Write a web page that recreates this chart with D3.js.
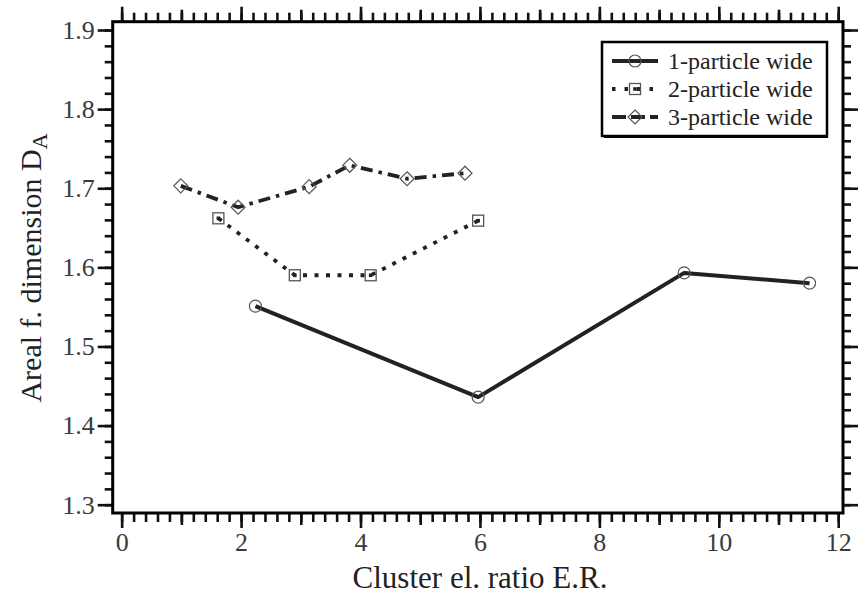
<!DOCTYPE html>
<html>
<head>
<meta charset="utf-8">
<script src="https://cdn.jsdelivr.net/npm/d3@7"></script>
<style>
  body { margin: 0; background: #fff; }
  text { font-family: "Liberation Serif", "Times New Roman", serif; }
</style>
</head>
<body>
<div id="chart"></div>
<script>
"use strict";

// data
const seriesNames = ["1-particle wide", "2-particle wide", "3-particle wide"];
const er1 = [2.24, 5.97, 9.42, 11.52],
      da1 = [1.551, 1.436, 1.593, 1.580];
const er2 = [1.62, 2.90, 4.17, 5.97],
      da2 = [1.662, 1.590, 1.590, 1.659];
const er3 = [0.99, 1.95, 3.14, 3.82, 4.78, 5.75],
      da3 = [1.703, 1.676, 1.702, 1.729, 1.712, 1.719];
const xTicks = [0, 2, 4, 6, 8, 10, 12],
      yTicks = [1.3, 1.4, 1.5, 1.6, 1.7, 1.8, 1.9];

const W = 858, H = 600,
      padL = 112.7, padR = 843, padT = 21.7, padB = 513;

const x = d3.scaleLinear().domain([-0.15, 12.08]).range([padL, padR]);
const y = d3.scaleLinear().domain([1.2895, 1.9105]).range([padB, padT]);

const svg = d3.select("#chart").append("svg")
    .attr("width", W)
    .attr("height", H);

/***** axes *****/
const xMinor = d3.range(0, 12.01, 0.2).map(v => +v.toFixed(2)),
      xMid = d3.range(1, 12, 2),
      yMinor = d3.range(1.3, 1.901, 0.02).map(v => +v.toFixed(2));

function drawAxis(axisFn, scale, ticks, size, pos, labels) {
    let a = axisFn(scale).tickValues(ticks).tickSize(size).tickSizeOuter(0);
    if (labels) a.tickFormat(labels).tickPadding(5);
    else a.tickFormat("");
    let g = svg.append("g").attr("transform", pos).call(a);
    g.select(".domain").remove();
    g.selectAll(".tick line").attr("stroke", "#111").attr("stroke-width", 2.6);
    g.selectAll(".tick text")
        .attr("fill", "#3a3a3a")
        .style("font-size", "26px")
        .style("font-family", "'Liberation Serif', serif");
    return g;
}

// bottom / top
drawAxis(d3.axisBottom, x, xMinor, 9, `translate(0,${padB})`);
drawAxis(d3.axisBottom, x, xMid, 12, `translate(0,${padB})`);
drawAxis(d3.axisBottom, x, xTicks, 15, `translate(0,${padB})`, d3.format("d"));
drawAxis(d3.axisTop, x, xMinor, 9, `translate(0,${padT})`);
drawAxis(d3.axisTop, x, xMid, 12, `translate(0,${padT})`);
drawAxis(d3.axisTop, x, xTicks, 15, `translate(0,${padT})`);
// left / right
drawAxis(d3.axisLeft, y, yMinor, 8, `translate(${padL},0)`);
drawAxis(d3.axisLeft, y, yTicks, 15, `translate(${padL},0)`, d3.format(".1f"))
    .selectAll(".tick text").attr("dx", 2);
drawAxis(d3.axisRight, y, yMinor, 8, `translate(${padR},0)`);
drawAxis(d3.axisRight, y, yTicks, 15, `translate(${padR},0)`);

svg.append("rect")
    .attr("x", padL).attr("y", padT)
    .attr("width", padR - padL).attr("height", padB - padT)
    .attr("fill", "none")
    .attr("stroke", "#000")
    .attr("stroke-width", 3);

/***** lines *****/
const styles = [
    {dash: null, width: 4, color: "#222"},
    {dash: "4,7.5", width: 3.8, color: "#222"},
    {dash: "12,6,3.5,6", width: 3.8, color: "#222"}
];
const sets = [
    er1.map((v, i) => [v, da1[i]]),
    er2.map((v, i) => [v, da2[i]]),
    er3.map((v, i) => [v, da3[i]])
];

const line = d3.line().x(d => x(d[0])).y(d => y(d[1]));

function marker(g, k, cx, cy) {
    if (k == 0) {
        g.append("circle").attr("cx", cx).attr("cy", cy).attr("r", 6)
            .attr("fill", "none").attr("stroke", "#555").attr("stroke-width", 1.2);
    } else if (k == 1) {
        g.append("rect").attr("x", cx - 5.5).attr("y", cy - 5.5)
            .attr("width", 11).attr("height", 11)
            .attr("fill", "none").attr("stroke", "#555").attr("stroke-width", 1.3);
        g.append("rect").attr("x", cx - 1.8).attr("y", cy - 1.8)
            .attr("width", 3.6).attr("height", 3.6).attr("fill", "#222");
    } else {
        g.append("path")
            .attr("d", `M${cx},${cy - 7}L${cx + 7},${cy}L${cx},${cy + 7}L${cx - 7},${cy}Z`)
            .attr("fill", "none").attr("stroke", "#555").attr("stroke-width", 1.2);
    }
}

sets.forEach((pts, k) => {
    let s = styles[k];
    svg.append("path")
        .datum(pts)
        .attr("d", line)
        .attr("fill", "none")
        .attr("stroke", s.color)
        .attr("stroke-width", s.width)
        .attr("stroke-dasharray", s.dash)
        .attr("stroke-linejoin", "round");
    let g = svg.append("g");
    pts.forEach(p => marker(g, k, x(p[0]), y(p[1])));
});

/***** legend *****/
const lg = svg.append("g").attr("transform", "translate(602,42)");
lg.append("rect")
    .attr("x", 0).attr("y", 0).attr("width", 225).attr("height", 94)
    .attr("fill", "#fff").attr("stroke", "#000").attr("stroke-width", 2.5);
lg.append("path").attr("d", "M225,2V95H2").attr("fill", "none")
    .attr("stroke", "#000").attr("stroke-width", 2);

seriesNames.forEach((name, k) => {
    let yy = 19 + k * 28, s = styles[k];
    lg.append("line")
        .attr("x1", 10).attr("x2", 56).attr("y1", yy).attr("y2", yy)
        .attr("stroke", s.color).attr("stroke-width", s.width)
        .attr("stroke-dasharray", k == 1 ? "3.5,9" : (k == 2 ? "14,5" : null));
    marker(lg, k, 33, yy);
    lg.append("text")
        .attr("x", 66).attr("y", yy + 8)
        .attr("fill", "#222")
        .style("font-size", "24px")
        .text(name);
});

/***** titles *****/
svg.append("text")
    .attr("x", 480).attr("y", 588)
    .attr("text-anchor", "middle")
    .attr("fill", "#222")
    .style("font-size", "31px")
    .text("Cluster el. ratio E.R.");

const yl = svg.append("text")
    .attr("transform", "translate(41,268) rotate(-90)")
    .attr("text-anchor", "middle")
    .attr("fill", "#222")
    .style("font-size", "30px");
yl.append("tspan").text("Areal f. dimension D");
yl.append("tspan").attr("dy", 6).style("font-size", "22px").text("A");
</script>
</body>
</html>
